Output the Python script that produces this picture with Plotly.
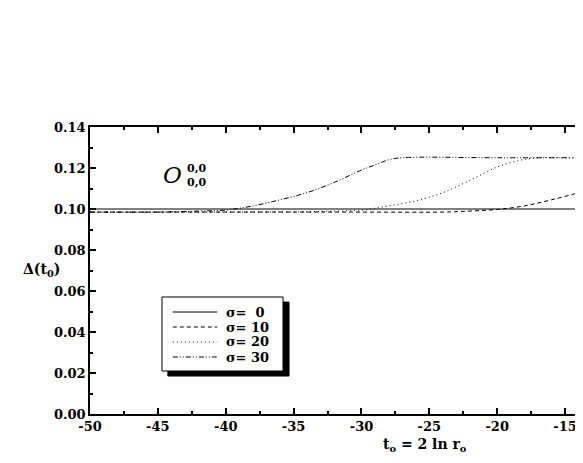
import plotly.graph_objects as go

# ---- data ----
t_s0 = [-50, -13.68]
d_s0 = [0.100, 0.100]

t_s10 = [-50, -40, -30, -24, -22, -20, -18, -16, -14, -13.68]
d_s10 = [0.0985, 0.0985, 0.0985, 0.0985, 0.099, 0.0998, 0.1015, 0.1045, 0.108, 0.1088]

t_s20 = [-50, -40, -33, -30, -28, -26, -24, -22, -20, -18.5, -17, -15, -13.68]
d_s20 = [0.0985, 0.0985, 0.0988, 0.0995, 0.1015, 0.104, 0.108, 0.114, 0.1205, 0.1235, 0.125, 0.125, 0.125]

t_s30 = [-50, -45, -42, -40, -38, -36, -34, -32, -30, -29, -28, -27, -20, -13.68]
d_s30 = [0.0985, 0.0985, 0.099, 0.0995, 0.1015, 0.1045, 0.108, 0.113, 0.119, 0.1215, 0.124, 0.125, 0.125, 0.125]

x_ticks = [-50, -45, -40, -35, -30, -25, -20, -15]
x_ticktext = ["-50", "-45", "-40", "-35", "-30", "-25", "-20", "-15"]
y_ticks = [0.00, 0.02, 0.04, 0.06, 0.08, 0.10, 0.12, 0.14]
y_ticktext = ["0.00", "0.02", "0.04", "0.06", "0.08", "0.10", "0.12", "0.14"]

legend_labels = ["σ=  0", "σ= 10", "σ= 20", "σ= 30"]
dashes = ["solid", "4px,3px", "1px,3px", "5px,2px,1px,2px,1px,2px"]

FONT = "DejaVu Serif"

fig = go.Figure()
for t, d, dash in zip([t_s0, t_s10, t_s20, t_s30], [d_s0, d_s10, d_s20, d_s30], dashes):
    fig.add_trace(go.Scatter(x=t, y=d, mode="lines", line=dict(color="black", width=1, dash=dash, shape="spline"),
                             showlegend=False, hoverinfo="skip"))

# page body has an 8px margin: figure of 575x455 fills the window exactly
fig.update_layout(
    width=575, height=455,
    margin=dict(l=82, r=0, t=119, b=49),
    plot_bgcolor="white", paper_bgcolor="white",
    font=dict(family=FONT, size=13, color="black"),
)
fig.update_xaxes(range=[-50, -13.68], showgrid=False, zeroline=False, showline=True, linecolor="black", linewidth=1.5,
                 mirror="ticks", ticks="inside", ticklen=6, tickwidth=1.5, tickcolor="black",
                 tickvals=x_ticks, ticktext=["<b>" + s + "</b>" for s in x_ticktext], tickfont=dict(family=FONT, size=13),
                 minor=dict(ticks="inside", ticklen=3, tickwidth=1.5, tickcolor="black", tickmode="linear", tick0=-50, dtick=2.5))
fig.update_yaxes(range=[0, 0.14], showgrid=False, zeroline=False, showline=True, linecolor="black", linewidth=1.5,
                 mirror=False, ticks="inside", ticklen=6, tickwidth=1.5, tickcolor="black",
                 tickvals=y_ticks, ticktext=["<b>" + s + "</b>" for s in y_ticktext], tickfont=dict(family=FONT, size=13),
                 minor=dict(ticks="inside", ticklen=3, tickwidth=1.5, tickcolor="black", tickmode="linear", tick0=0, dtick=0.01))

# legend box with shadow (paper coords)
fig.add_shape(type="rect", xref="paper", yref="paper", x0=0.158, x1=0.4037, y0=0.1324, y1=0.390,
              fillcolor="black", line=dict(color="black", width=1))
fig.add_shape(type="rect", xref="paper", yref="paper", x0=0.146, x1=0.3915, y0=0.1498, y1=0.4077,
              fillcolor="white", line=dict(color="black", width=1))
rows = [0.3554, 0.3031, 0.2509, 0.1986]
for yy, dash, lab in zip(rows, dashes, legend_labels):
    fig.add_shape(type="line", xref="paper", yref="paper", x0=0.168, x1=0.258, y0=yy, y1=yy,
                  line=dict(color="black", width=1, dash=dash))
    fig.add_annotation(xref="paper", yref="paper", x=0.272, y=yy, text="<b>" + lab + "</b>", showarrow=False,
                       xanchor="left", yanchor="middle", font=dict(family=FONT, size=13))

# axis titles
fig.add_annotation(xref="paper", yref="paper", x=(425 - 90) / 493, y=(414 - 445) / 287,
                   text="<b>t<sub>o</sub> = 2 ln r<sub>o</sub></b>", showarrow=False,
                   xanchor="center", yanchor="middle", font=dict(family=FONT, size=14))
fig.add_annotation(xref="paper", yref="paper", x=(41 - 90) / 493, y=(414 - 270) / 287,
                   text="<b>Δ(t<sub>0</sub>)</b>", showarrow=False,
                   xanchor="center", yanchor="middle", font=dict(family=FONT, size=14))

# operator label
fig.add_annotation(xref="paper", yref="paper", x=(172 - 90) / 493, y=(414 - 175) / 287,
                   text="<i>O</i>", showarrow=False, xanchor="center", yanchor="middle",
                   font=dict(family=FONT, size=23))
fig.add_annotation(xref="paper", yref="paper", x=(185 - 90) / 493, y=(414 - 168) / 287,
                   text="<b>0,0</b>", showarrow=False, xanchor="left", yanchor="middle",
                   font=dict(family=FONT, size=11))
fig.add_annotation(xref="paper", yref="paper", x=(185 - 90) / 493, y=(414 - 182) / 287,
                   text="<b>0,0</b>", showarrow=False, xanchor="left", yanchor="middle",
                   font=dict(family=FONT, size=11))

fig.write_html("out.html")
